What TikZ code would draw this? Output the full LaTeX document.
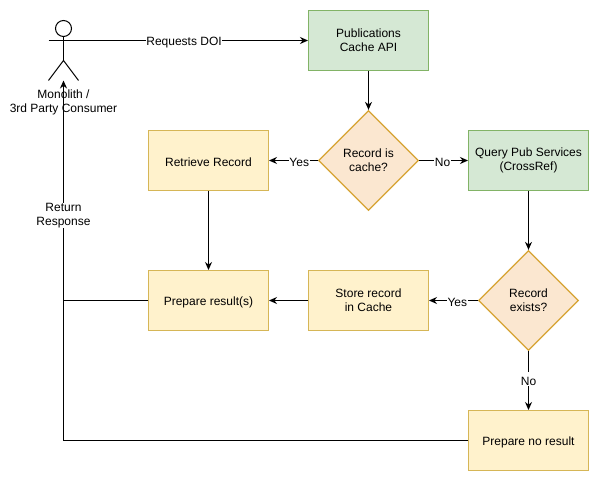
\documentclass[tikz,border=0pt]{standalone}
\usepackage{fontspec}
\setmainfont{Liberation Sans}
\usepackage{xcolor}
\usetikzlibrary{positioning,shapes.geometric,arrows.meta}
\definecolor{greenfill}{HTML}{D5E8D4}
\definecolor{greenline}{HTML}{82B366}
\definecolor{yellowfill}{HTML}{FFF2CC}
\definecolor{yellowline}{HTML}{D6B656}
\definecolor{orangefill}{HTML}{FBE7D0}
\definecolor{orangeline}{HTML}{D6A332}
\tikzset{
  boxnode/.style={rectangle,draw,minimum width=120pt,minimum height=60pt,inner sep=0pt,align=center,line width=1pt},
  apibox/.style={boxnode,fill=greenfill,draw=greenline},
  stepbox/.style={boxnode,fill=yellowfill,draw=yellowline},
  choice/.style={diamond,draw=orangeline,fill=orangefill,minimum width=100pt,minimum height=100pt,inner sep=0pt,align=center,line width=1.3pt,aspect=1},
  edgelabel/.style={fill=white,inner sep=0.5pt,align=center},
  flow/.style={-{Stealth[length=8pt,width=7pt]},line width=1pt},
  every node/.append style={execute at begin node={\rule{0pt}{13pt}}},
}
\begin{document}
\begin{tikzpicture}[x=1pt,y=-1pt,font=\fontsize{12}{14}\selectfont]
\useasboundingbox (-0.5,-0.5) rectangle (598.5,480.5);

% actor
\node[circle,draw,line width=1pt,minimum size=16pt,inner sep=0pt] (head) at (63,28) {};
\coordinate (armL) at (48,40);
\coordinate (armR) at (78,40);
\coordinate (hip) at (63,60);
\coordinate (footL) at (48,80);
\coordinate (footR) at (78,80);
\coordinate (actorbase) at (63,80);
\draw[line width=1pt] (head) -- (hip);
\draw[line width=1pt] (armL) -- (armR);
\draw[line width=1pt] (footL) -- (hip) -- (footR);
\node[align=center] (actorname) at (63,102) {Monolith /\\3rd Party Consumer};

% boxes
\node[apibox] (cacheapi) at (368,40) {Publications\\Cache API};
\node[choice] (incache) at (368,160) {Record is\\cache?};
\node[stepbox] (retrieve) at (208,160) {Retrieve Record};
\node[apibox] (query) at (528,160) {Query Pub Services\\(CrossRef)};
\node[choice] (exists) at (528,300) {Record\\exists?};
\node[stepbox] (store) at (368,300) {Store record\\in Cache};
\node[stepbox] (result) at (208,300) {Prepare result(s)};
\node[stepbox] (noresult) at (528,440) {Prepare no result};
\coordinate (retcorner) at (63,440);
\coordinate (retjoin) at (63,300);

% edges
\draw[flow] (armR) -- node[edgelabel,pos=0.46] (reqlabel) {Requests DOI} (cacheapi);
\draw[flow] (cacheapi) -- (incache);
\draw[flow] (incache) -- node[edgelabel,pos=0.38] (yeslabel) {Yes} (retrieve);
\draw[flow] (incache) -- node[edgelabel,pos=0.48] (nolabel) {No} (query);
\draw[flow] (retrieve) -- (result);
\draw[flow] (query) -- (exists);
\draw[flow] (exists) -- node[edgelabel,pos=0.47] (nolabelb) {No} (noresult);
\draw[flow] (exists) -- node[edgelabel,pos=0.42] (yeslabelb) {Yes} (store);
\draw[flow] (store) -- (result);
\draw[line width=1pt] (result) -- (retjoin);
\draw[flow] (noresult) -- (retcorner) -- node[edgelabel,pos=0.625] (retlabel) {Return\\Response} (actorbase);
\end{tikzpicture}
\end{document}
